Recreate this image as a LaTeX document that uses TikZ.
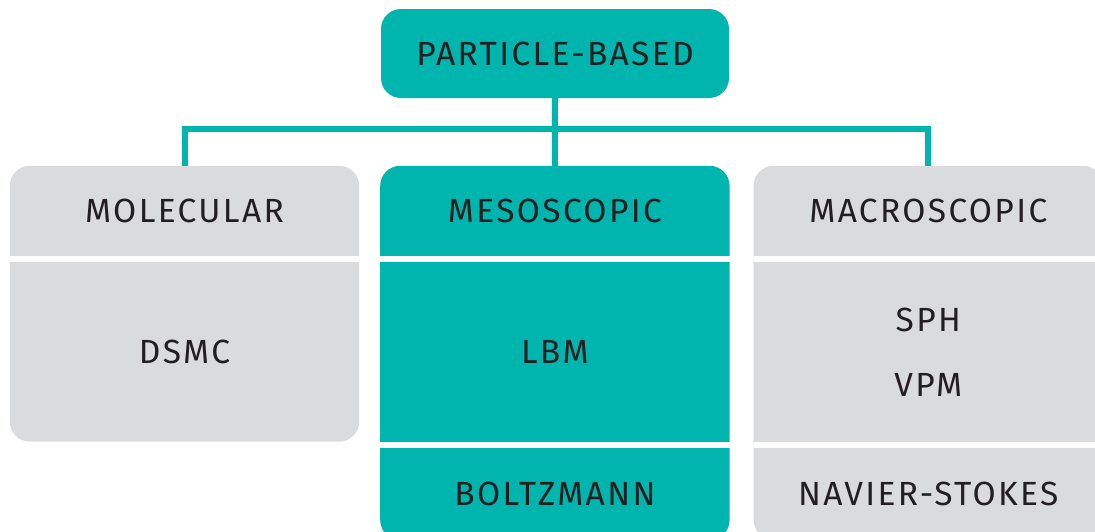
\documentclass[tikz,border=0pt]{standalone}
\usepackage{fontspec}
\setmainfont{Fira Sans}[LetterSpace=7]
\usetikzlibrary{positioning,calc,backgrounds}
\definecolor{tealbox}{RGB}{0,181,173}
\definecolor{greybox}{RGB}{218,219,221}
\definecolor{inkdark}{RGB}{35,31,32}

\begin{document}
\begin{tikzpicture}[x=1pt,y=-1pt,node distance=6pt,
    every node/.style={text=inkdark,font=\fontsize{33.5}{38}\selectfont,inner sep=0pt},
    hdr/.style={minimum width=349pt,minimum height=90pt},
    cell/.style={minimum width=349pt,minimum height=179pt,align=center},
    foot/.style={minimum width=349pt,minimum height=92pt},
    link/.style={draw=tealbox,line width=6pt}]
    \useasboundingbox (0,0) rectangle (1095,531);
    \clip (0,0) rectangle (1095,531);
    \node[hdr,minimum width=348pt,minimum height=89pt,fill=tealbox,rounded corners=20pt] (pb) at (555,53.5) {PARTICLE-BASED};
    \node[hdr] (mol) at (184.5,211) {MOLECULAR};
    \node[hdr,right = 21pt of mol] (meso) {MESOSCOPIC};
    \node[hdr,right = 24pt of meso] (mac) {MACROSCOPIC};
    \node[cell,below = of mol] (dsmc) {DSMC};
    \node[cell,below = of meso] (lbm) {LBM};
    \node[cell,below = of mac] (sphvpm) {SPH\\[27pt]VPM};
    \node[foot,below = of lbm] (boltz) {BOLTZMANN};
    \node[foot,below = of sphvpm] (navier) {NAVIER-STOKES};
    %
    \begin{pgfonlayer}{background}
    \fill[greybox,rounded corners=20pt] (mol.north west) rectangle (dsmc.south east);
    \fill[tealbox,rounded corners=20pt] (meso.north west) rectangle (boltz.south east);
    \fill[greybox,rounded corners=20pt] (mac.north west) rectangle (navier.south east);
    \fill[white] (mol.south west) rectangle (dsmc.north east);
    \fill[white] (meso.south west) rectangle (lbm.north east);
    \fill[white] (lbm.south west) rectangle (boltz.north east);
    \fill[white] (mac.south west) rectangle (sphvpm.north east);
    \fill[white] (sphvpm.south west) rectangle (navier.north east);
    \end{pgfonlayer}
    %
    \coordinate (bus) at ($(pb.south)!0.45!(meso.north)$);
    \draw[link] (pb.south) -- (meso.north);
    \draw[link] (mol.north) |- (bus) -| (mac.north);
\end{tikzpicture}
\end{document}
